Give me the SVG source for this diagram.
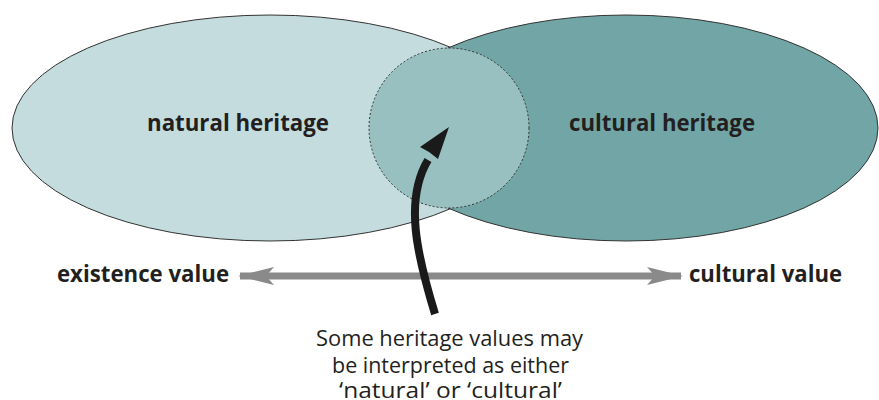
<svg xmlns="http://www.w3.org/2000/svg" width="879" height="400" viewBox="0 0 879 400">
<style>
.lbl{font-family:"Open Sans","Liberation Sans",sans-serif;font-weight:bold;font-size:24px;fill:#231f20}
.note{font-family:"Open Sans","Liberation Sans",sans-serif;font-size:22px;fill:#231f20}
.ell{stroke:#333;stroke-width:1}
</style>
<defs>
<marker id="gh" viewBox="0 0 36 20" refX="34" refY="10" markerUnits="userSpaceOnUse" markerWidth="36" markerHeight="20" orient="auto-start-reverse">
<path d="M0,1 L36,10 L0,19 L8,10 Z" fill="#8a8a8a"/>
</marker>
</defs>
<g id="natural">
<ellipse class="ell" cx="270" cy="128" rx="258" ry="113" fill="#c4dcde"/>
<text class="lbl" x="147" y="131" textLength="182" lengthAdjust="spacingAndGlyphs">natural heritage</text>
</g>
<g id="cultural">
<ellipse class="ell" cx="626" cy="128" rx="252" ry="113" fill="#72a6a6"/>
<text class="lbl" x="569" y="131" textLength="186" lengthAdjust="spacingAndGlyphs">cultural heritage</text>
</g>
<g id="overlap">
<circle cx="449" cy="128" r="80" fill="#98c0c0" stroke="#333" stroke-width="1" stroke-dasharray="2,2"/>
</g>
<g id="existence">
<text class="lbl" x="57" y="282" textLength="172" lengthAdjust="spacingAndGlyphs">existence value</text>
</g>
<g id="culturalvalue">
<text class="lbl" x="689" y="282" textLength="153" lengthAdjust="spacingAndGlyphs">cultural value</text>
</g>
<g id="note">
<text class="note" x="316" y="346" textLength="267" lengthAdjust="spacingAndGlyphs">Some heritage values may</text>
<text class="note" x="332" y="372.5" textLength="237" lengthAdjust="spacingAndGlyphs">be interpreted as either</text>
<text class="note" x="339" y="398" textLength="223" lengthAdjust="spacingAndGlyphs">‘natural’ or ‘cultural’</text>
</g>
<g id="connectors">
<line x1="240" y1="276" x2="681" y2="276" stroke="#8a8a8a" stroke-width="7" marker-start="url(#gh)" marker-end="url(#gh)"/>
<path d="M435,314 C417,255 404,200 428,160" fill="none" stroke="#1a1a1a" stroke-width="8"/>
<path d="M449,127 L438,159 L429,152 L420,147 Z" fill="#1a1a1a"/>
</g>
</svg>
